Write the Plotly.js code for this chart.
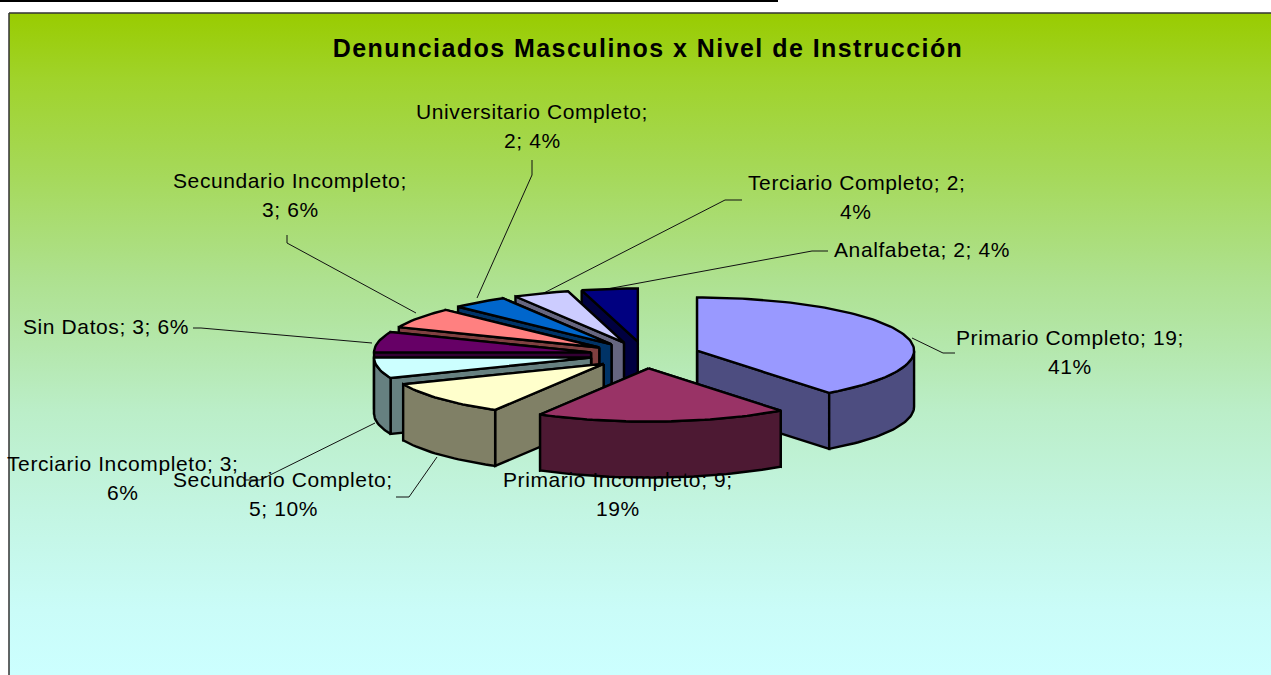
<!DOCTYPE html>
<html><head><meta charset="utf-8">
<script src="https://cdn.plot.ly/plotly-3.0.1.min.js"></script>
<style>html,body{margin:0;padding:0;background:#fff;overflow:hidden}#chart{width:1271px;height:675px}
.annotation-text{letter-spacing:.6px}
.gtitle{letter-spacing:1.45px}
</style>
</head><body><div id="chart"></div>
<script>
// DATA
const chartTitle = "Denunciados Masculinos x Nivel de Instrucción";
const categories = ["Primario Completo","Primario Incompleto","Secundario Completo","Terciario Incompleto","Sin Datos","Secundario Incompleto","Universitario Completo","Terciario Completo","Analfabeta"];
const values = [19,9,5,3,3,3,2,2,2];
const percents = [41,19,10,6,6,6,4,4,4];
const topColors = ["#9999FF","#993366","#FFFFCC","#CCFFFF","#660066","#FF8080","#0066CC","#CCCCFF","#000080"];
const wallColors = ["#4D4D80","#4D1933","#808066","#668080","#330033","#804040","#003366","#666680","#000040"];
// where each label wraps: number of ';'-separated parts on its first line
const wrapAfter = [2,2,1,2,3,1,1,2,3];
// background colour stops, read top to bottom
const gradientStops = [[0,'#99CC00'],[0.1,'#A0D32B'],[0.25,'#A6D95C'],[0.4,'#AEE18F'],[0.5,'#B4E7AB'],[0.6,'#BBEEC8'],[0.75,'#C3F5E2'],[0.9,'#CAFCF8'],[1,'#CCFFFF']];

// LAYOUT OF THE PIE (plot units are pixels)
const cx=645, cy=355, R=217, tilt=0.245, depth=56, explode=55;
const labelCenters = [[1070,337],[618,479],[283,479],[123,463],[106,326],[290,180],[532,111],[856,182],[922,249]];
const lineGap = 29.5;
const leaders = [
  [[955,353],[943,353],[912,338]],
  null,
  [[396,497],[409,497],[437,457]],
  [[245,480],[260,480],[375,423]],
  [[193,328],[201,328],[372,343]],
  [[287,235],[287,243],[416,313]],
  [[532,160],[532,175],[477,298]],
  [[742,200],[725,200],[540,295]],
  [[828,251],[812,251],[607,289]]
];

const rad = d => d*Math.PI/180;
const total = values.reduce((a,b)=>a+b,0);
const traces = [], annotations = [];

// background
traces.push({x:[9,1290,1290,9,9],y:[13,13,676,676,13],mode:'lines',fill:'toself',
  line:{color:'#333333',width:1.5},fillcolor:'#B3E680',
  fillgradient:{type:'vertical',colorscale:gradientStops.map(s=>[1-s[0],s[1]]).reverse()},hoverinfo:'skip',showlegend:false});
// rule at the very top
traces.push({x:[0,778],y:[1,1],mode:'lines',line:{color:'#000',width:2},hoverinfo:'skip',showlegend:false});

// leader lines
leaders.forEach(l=>{ if(l) traces.push({x:l.map(p=>p[0]),y:l.map(p=>p[1]),mode:'lines',
  line:{color:'#111',width:1},hoverinfo:'skip',showlegend:false}); });

// slices
let start=0;
const slices = values.map((v,i)=>{
  const a=start, b=start+v/total*360; start=b;
  const m=(a+b)/2;
  return {i,a,b,m,
    ax:cx+explode*Math.sin(rad(m)),
    ay:cy-explode*tilt*Math.cos(rad(m))};
});
function poly(xs,ys,color){
  xs=xs.concat([xs[0]]); ys=ys.concat([ys[0]]);
  traces.push({x:xs,y:ys,mode:'lines',fill:'toself',fillcolor:color,
    line:{color:'#000',width:2.4,shape:'linear'},hoverinfo:'skip',showlegend:false});
}
function arcPts(s,a,b,dz){
  const n=Math.max(2,Math.ceil((b-a)/1.5)), xs=[], ys=[];
  for(let k=0;k<=n;k++){ const t=rad(a+(b-a)*k/n);
    xs.push(s.ax+R*Math.sin(t)); ys.push(s.ay-R*tilt*Math.cos(t)+dz); }
  return [xs,ys];
}
function radial(s,t,color){
  const ex=s.ax+R*Math.sin(rad(t)), ey=s.ay-R*tilt*Math.cos(rad(t));
  poly([s.ax,ex,ex,s.ax],[s.ay,ey,ey+depth,s.ay+depth],color);
}
slices.slice().sort((p,q)=>Math.cos(rad(q.m))-Math.cos(rad(p.m))).forEach(s=>{
  const wall=wallColors[s.i];
  radial(s,s.b,wall);
  radial(s,s.a,wall);
  const fa=Math.max(s.a,90), fb=Math.min(s.b,270);
  if(fb>fa){
    const [tx,ty]=arcPts(s,fa,fb,0), [bx,by]=arcPts(s,fa,fb,depth);
    poly(tx.concat(bx.reverse()),ty.concat(by.reverse()),wall);
  }
  const [x,y]=arcPts(s,s.a,s.b,0);
  poly([s.ax].concat(x),[s.ay].concat(y),topColors[s.i]);
});

// labels
categories.forEach((c,i)=>{
  const parts=[c,String(values[i]),percents[i]+'%'], n=wrapAfter[i];
  const lines=[parts.slice(0,n).join('; ')+(n<3?';':'')];
  if(n<3) lines.push(parts.slice(n).join('; '));
  lines.forEach((t,k)=>annotations.push({x:labelCenters[i][0],y:labelCenters[i][1]+k*lineGap,
    xref:'x',yref:'y',text:t,showarrow:false,xanchor:'center',yanchor:'middle',
    font:{family:'"Liberation Sans",Arial,sans-serif',size:21,color:'#000'}}));
});

Plotly.newPlot('chart',traces,{
  title:{text:'<b>'+chartTitle+'</b>',x:648/1271,xref:'paper',xanchor:'center',y:1-48/675,yref:'paper',yanchor:'middle',
    font:{family:'"Liberation Sans",Arial,sans-serif',size:25,color:'#000'}},
  width:1271,height:675,margin:{l:0,r:0,t:0,b:0},paper_bgcolor:'#fff',plot_bgcolor:'rgba(0,0,0,0)',
  xaxis:{range:[0,1271],visible:false,fixedrange:true},
  yaxis:{range:[675,0],visible:false,fixedrange:true},
  showlegend:false,annotations,hovermode:false
},{displayModeBar:false,staticPlot:true});
</script></body></html>
